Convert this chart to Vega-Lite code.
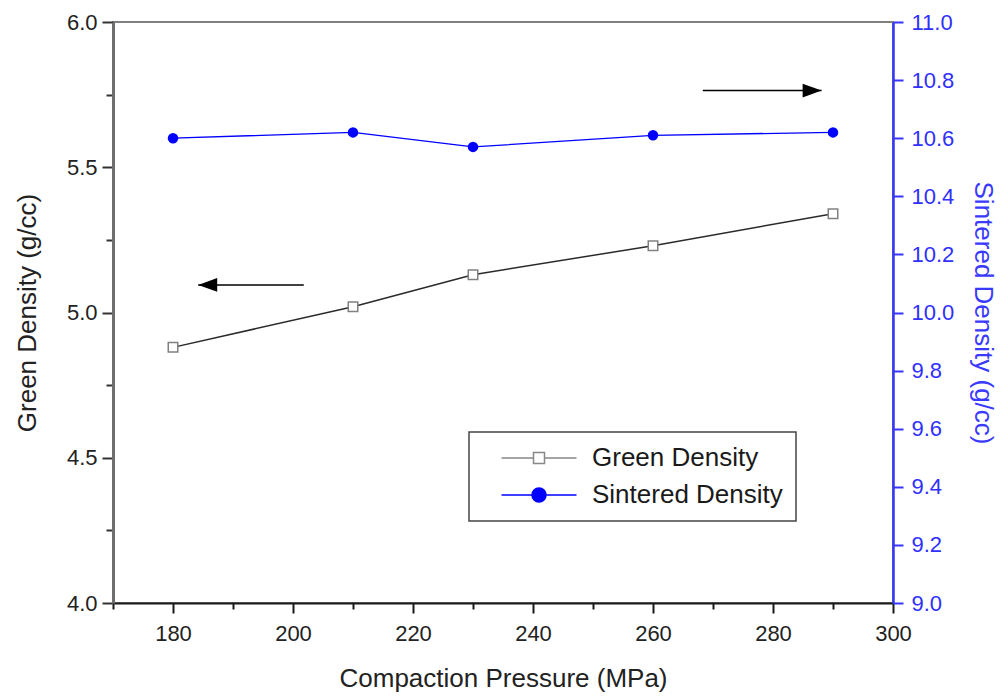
{
  "$schema": "https://vega.github.io/schema/vega-lite/v6.json",
  "width": 780,
  "height": 581,
  "autosize": "none",
  "padding": {"left": 113, "top": 22, "right": 112, "bottom": 94},
  "background": "white",
  "config": {
    "font": "Liberation Sans",
    "view": {"stroke": "#808080", "strokeWidth": 2},
    "axis": {"grid": false, "titleFontWeight": "normal", "labelFontSize": 22, "titleFontSize": 26, "labelOverlap": false, "labelBound": false, "labelFlush": false}
  },
  "datasets": {
    "main": [
      {"Compaction Pressure": 180, "Green Density": 4.88, "Sintered Density": 10.60},
      {"Compaction Pressure": 210, "Green Density": 5.02, "Sintered Density": 10.62},
      {"Compaction Pressure": 230, "Green Density": 5.13, "Sintered Density": 10.57},
      {"Compaction Pressure": 260, "Green Density": 5.23, "Sintered Density": 10.61},
      {"Compaction Pressure": 290, "Green Density": 5.34, "Sintered Density": 10.62}
    ],
    "arrows": [
      {"tip": 184.2, "tail": 201.8, "level": 5.095, "dir": "left"},
      {"tip": 288.1, "tail": 268.3, "level": 5.764, "dir": "right"}
    ]
  },
  "layer": [
    {
      "layer": [
        {
          "data": {"name": "main"},
          "mark": {"type": "line", "color": "#2a2a2a", "strokeWidth": 1.5},
          "encoding": {
            "x": {"field": "Compaction Pressure", "type": "quantitative", "title": "Compaction Pressure (MPa)",
              "scale": {"domain": [170, 300], "nice": false, "zero": false},
              "axis": {
                "values": [170, 180, 190, 200, 210, 220, 230, 240, 250, 260, 270, 280, 290, 300],
                "labelExpr": "datum.value % 20 == 0 ? datum.label : ''",
                "tickSize": {"condition": {"test": "datum.value % 20 == 0", "value": 10}, "value": 6},
                "tickWidth": 2, "tickColor": "#1a1a1a", "domainColor": "#1a1a1a", "domainWidth": 2,
                "labelColor": "#222", "labelPadding": 10, "titleColor": "#222", "titlePadding": 21
              }},
            "y": {"field": "Green Density", "type": "quantitative", "title": "Green Density (g/cc)",
              "scale": {"domain": [4, 6], "nice": false, "zero": false},
              "axis": {
                "orient": "left",
                "values": [4, 4.25, 4.5, 4.75, 5, 5.25, 5.5, 5.75, 6],
                "labelExpr": "(datum.value * 2) % 1 == 0 ? format(datum.value, '.1f') : ''",
                "tickSize": {"condition": {"test": "(datum.value * 2) % 1 == 0", "value": 11}, "value": 7},
                "tickWidth": 2, "tickColor": "#333", "domainColor": "#6e6e6e", "domainWidth": 3,
                "labelColor": "#222", "labelPadding": 5, "titleColor": "#222", "titlePadding": 26
              }}
          }
        },
        {
          "data": {"name": "main"},
          "mark": {"type": "point", "shape": "square", "filled": true, "fill": "white", "stroke": "#808080", "strokeWidth": 1.5, "size": 90, "opacity": 1},
          "encoding": {
            "x": {"field": "Compaction Pressure", "type": "quantitative", "title": "Compaction Pressure (MPa)", "scale": {"domain": [170, 300], "nice": false, "zero": false}},
            "y": {"field": "Green Density", "type": "quantitative", "title": "Green Density (g/cc)", "scale": {"domain": [4, 6], "nice": false, "zero": false}}
          }
        },
        {
          "data": {"name": "arrows"},
          "mark": {"type": "rule", "color": "black", "strokeWidth": 1.5},
          "encoding": {
            "x": {"field": "tip", "type": "quantitative", "title": "Compaction Pressure (MPa)", "scale": {"domain": [170, 300], "nice": false, "zero": false}},
            "x2": {"field": "tail"},
            "y": {"field": "level", "type": "quantitative", "title": "Green Density (g/cc)", "scale": {"domain": [4, 6], "nice": false, "zero": false}}
          }
        },
        {
          "data": {"name": "arrows"},
          "transform": [{"filter": "datum.dir == 'left'"}],
          "mark": {"type": "point", "shape": "M0,0L2,-0.72L2,0.72Z", "filled": true, "color": "black", "size": 361, "opacity": 1},
          "encoding": {
            "x": {"field": "tip", "type": "quantitative", "title": "Compaction Pressure (MPa)", "scale": {"domain": [170, 300], "nice": false, "zero": false}},
            "y": {"field": "level", "type": "quantitative", "title": "Green Density (g/cc)", "scale": {"domain": [4, 6], "nice": false, "zero": false}}
          }
        },
        {
          "data": {"name": "arrows"},
          "transform": [{"filter": "datum.dir == 'right'"}],
          "mark": {"type": "point", "shape": "M0,0L-2,-0.72L-2,0.72Z", "filled": true, "color": "black", "size": 361, "opacity": 1},
          "encoding": {
            "x": {"field": "tip", "type": "quantitative", "title": "Compaction Pressure (MPa)", "scale": {"domain": [170, 300], "nice": false, "zero": false}},
            "y": {"field": "level", "type": "quantitative", "title": "Green Density (g/cc)", "scale": {"domain": [4, 6], "nice": false, "zero": false}}
          }
        }
      ]
    },
    {
      "layer": [
        {
          "data": {"name": "main"},
          "mark": {"type": "line", "color": "#0000ff", "strokeWidth": 1.3},
          "encoding": {
            "x": {"field": "Compaction Pressure", "type": "quantitative", "title": "Compaction Pressure (MPa)", "scale": {"domain": [170, 300], "nice": false, "zero": false}},
            "y": {"field": "Sintered Density", "type": "quantitative", "title": "Sintered Density (g/cc)",
              "scale": {"domain": [9, 11], "nice": false, "zero": false},
              "axis": {
                "orient": "right",
                "values": [9, 9.1, 9.2, 9.3, 9.4, 9.5, 9.6, 9.7, 9.8, 9.9, 10, 10.1, 10.2, 10.3, 10.4, 10.5, 10.6, 10.7, 10.8, 10.9, 11],
                "labelExpr": "round(datum.value * 10) % 2 == 0 ? format(datum.value, '.1f') : ''",
                "tickSize": {"condition": {"test": "round(datum.value * 10) % 2 == 0", "value": 10}, "value": 6},
                "tickWidth": 2, "tickColor": "#3636ff", "domainColor": "#3636ff", "domainWidth": 2.5,
                "labelColor": "#3030ff", "labelPadding": 8, "titleColor": "#3a3aff", "titlePadding": 16
              }}
          }
        },
        {
          "data": {"name": "main"},
          "mark": {"type": "point", "shape": "circle", "filled": true, "color": "#0000ff", "size": 110, "opacity": 1},
          "encoding": {
            "x": {"field": "Compaction Pressure", "type": "quantitative", "title": "Compaction Pressure (MPa)", "scale": {"domain": [170, 300], "nice": false, "zero": false}},
            "y": {"field": "Sintered Density", "type": "quantitative", "title": "Sintered Density (g/cc)", "scale": {"domain": [9, 11], "nice": false, "zero": false}}
          }
        },
        {
          "data": {"name": "main"},
          "transform": [{"fold": ["Green Density", "Sintered Density"], "as": ["series", "v"]}],
          "mark": {"type": "point", "filled": true, "opacity": 0, "strokeWidth": 1.5},
          "encoding": {
            "x": {"field": "Compaction Pressure", "type": "quantitative", "title": "Compaction Pressure (MPa)", "scale": {"domain": [170, 300], "nice": false, "zero": false}},
            "y": {"field": "Sintered Density", "type": "quantitative", "title": "Sintered Density (g/cc)", "scale": {"domain": [9, 11], "nice": false, "zero": false}},
            "shape": {"field": "series", "type": "nominal", "title": null,
              "scale": {"domain": ["Green Density", "Sintered Density"], "range": ["M-7.5,0L-1.1,0M1.1,0L7.5,0M-1.1,-1.1L1.1,-1.1L1.1,1.1L-1.1,1.1Z", "M-7.5,0L-1.4,0M1.4,0L7.5,0M-1.4,0A1.4,1.4,0,1,1,1.4,0A1.4,1.4,0,1,1,-1.4,0Z"]},
              "legend": {
                "orient": "none", "legendX": 356, "legendY": 410,
                "strokeColor": "#444", "fillColor": "white",
                "padding": 13, "rowPadding": 11, "symbolSize": 100, "symbolStrokeWidth": 1.5,
                "symbolOffset": 44, "labelOffset": 40, "labelFontSize": 26, "labelColor": "#1a1a1a", "labelLimit": 400,
                "encoding": {
                  "legend": {"strokeWidth": {"value": 1.5}},
                  "symbols": {
                    "fill": {"value": {"expr": "scale('fill', datum.value)"}},
                    "fillOpacity": {"value": 1}
                  }
                }
              }},
            "fill": {"field": "series", "type": "nominal", "title": null,
              "scale": {"domain": ["Green Density", "Sintered Density"], "range": ["white", "#0000ff"]}},
            "stroke": {"field": "series", "type": "nominal", "title": null,
              "scale": {"domain": ["Green Density", "Sintered Density"], "range": ["#888888", "#0000ff"]}}
          }
        }
      ]
    }
  ],
  "resolve": {"scale": {"y": "independent"}}
}
